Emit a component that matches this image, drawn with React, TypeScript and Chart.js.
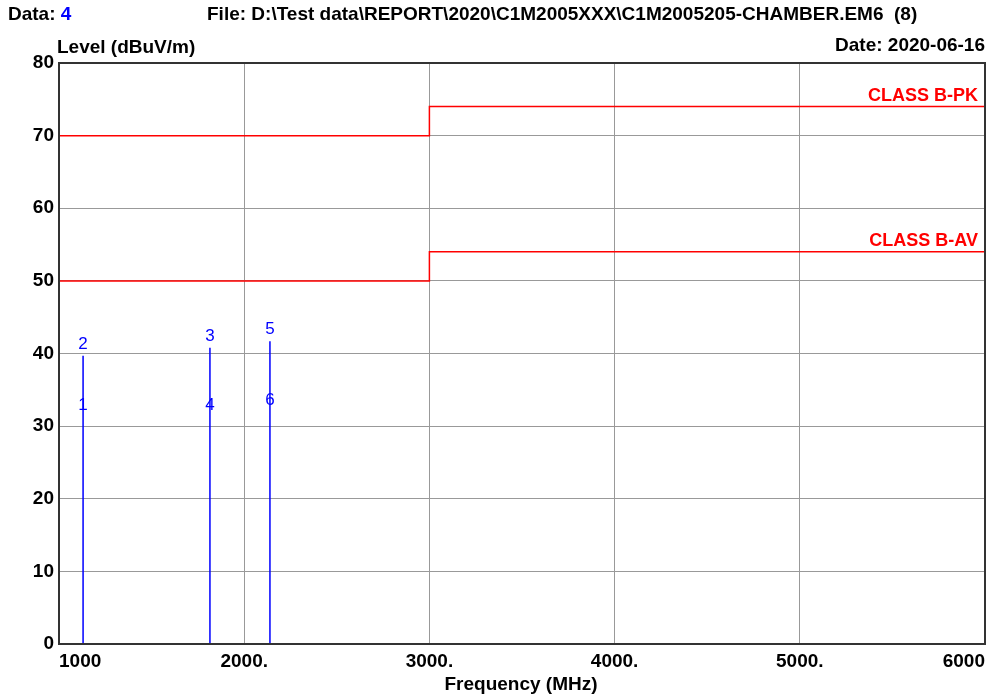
import React, { useEffect, useRef } from 'react';
import { Chart, registerables } from 'chart.js';

Chart.register(...registerables);

// ---- data ----
const markerFreqs = [1130, 1815, 2139];
const peakLevels = [39.7, 40.8, 41.7];
const avgLevels = [31.3, 31.3, 32.0];
const peakMarkerLabels = ['2', '3', '5'];
const avgMarkerLabels = ['1', '4', '6'];

const limitPkX = [1000, 3000, 3000, 6000];
const limitPkY = [70, 70, 74, 74];
const limitAvX = [1000, 3000, 3000, 6000];
const limitAvY = [50, 50, 54, 54];
const limitNames = ['CLASS B-PK', 'CLASS B-AV'];

const xTickValues = [1000, 2000, 3000, 4000, 5000, 6000];
const xTickLabels = ['1000', '2000.', '3000.', '4000.', '5000.', '6000'];
const yTickLabels = ['0', '10', '20', '30', '40', '50', '60', '70', '80'];

const headerData = 'Data: ';
const headerDataValue = '4';
const headerFile = 'File: D:\\Test data\\REPORT\\2020\\C1M2005XXX\\C1M2005205-CHAMBER.EM6  (8)';
const yTitle = 'Level (dBuV/m)';
const dateText = 'Date: 2020-06-16';
const xTitle = 'Frequency (MHz)';

const FONT = '"Liberation Sans", Arial, sans-serif';

const textPlugin = {
  id: 'emcTexts',
  afterDraw(chart: any) {
    const { ctx, chartArea, scales } = chart;
    const xs = scales.x;
    const ys = scales.y;
    ctx.save();
    // frame
    ctx.strokeStyle = '#333';
    ctx.lineWidth = 2;
    ctx.strokeRect(chartArea.left, chartArea.top, chartArea.right - chartArea.left, chartArea.bottom - chartArea.top);

    // marker numbers
    ctx.font = `17px ${FONT}`;
    ctx.fillStyle = '#0000ff';
    ctx.textAlign = 'center';
    ctx.textBaseline = 'alphabetic';
    markerFreqs.forEach((f, i) => {
      const px = xs.getPixelForValue(f);
      ctx.fillText(peakMarkerLabels[i], px, ys.getPixelForValue(peakLevels[i]) - 7);
      ctx.fillText(avgMarkerLabels[i], px, ys.getPixelForValue(avgLevels[i]) - 7);
    });

    // limit names
    ctx.font = `bold 18px ${FONT}`;
    ctx.fillStyle = '#ff0000';
    ctx.textAlign = 'right';
    ctx.fillText(limitNames[0], chartArea.right - 7, ys.getPixelForValue(limitPkY[limitPkY.length - 1]) - 6);
    ctx.fillText(limitNames[1], chartArea.right - 7, ys.getPixelForValue(limitAvY[limitAvY.length - 1]) - 6);

    // headers
    ctx.font = `bold 19px ${FONT}`;
    ctx.textBaseline = 'middle';
    ctx.textAlign = 'left';
    ctx.fillStyle = '#000';
    ctx.fillText(headerData, 8, 15);
    const w = ctx.measureText(headerData).width;
    ctx.fillStyle = '#0000ff';
    ctx.fillText(headerDataValue, 8 + w, 15);
    ctx.fillStyle = '#000';
    ctx.fillText(headerFile, 207, 15);
    ctx.fillText(yTitle, 57, 48);
    ctx.textAlign = 'right';
    ctx.fillText(dateText, chartArea.right, 46);
    ctx.textAlign = 'center';
    ctx.fillText(xTitle, 521, 685);
    ctx.restore();
  },
};

function buildStems() {
  const pts: any[] = [];
  markerFreqs.forEach((f, i) => {
    pts.push({ x: f, y: 0 });
    pts.push({ x: f, y: peakLevels[i] });
    pts.push({ x: f, y: null });
  });
  return pts;
}

export default function App() {
  const ref = useRef<HTMLCanvasElement>(null);
  useEffect(() => {
    if (!ref.current) return;
    const chart = new Chart(ref.current, {
      type: 'line',
      data: {
        datasets: [
          {
            data: limitPkX.map((x, i) => ({ x, y: limitPkY[i] })),
            borderColor: '#ff0000',
            borderWidth: 1.5,
            pointRadius: 0,
          },
          {
            data: limitAvX.map((x, i) => ({ x, y: limitAvY[i] })),
            borderColor: '#ff0000',
            borderWidth: 1.5,
            pointRadius: 0,
          },
          {
            data: buildStems(),
            borderColor: '#0000ff',
            borderWidth: 1.5,
            pointRadius: 0,
            spanGaps: false,
          },
        ],
      },
      options: {
        animation: false,
        responsive: false,
        events: [],
        layout: { padding: { top: 63, right: 18, left: 0, bottom: 0 } },
        plugins: { legend: { display: false }, tooltip: { enabled: false }, title: { display: false } },
        scales: {
          x: {
            type: 'linear',
            min: 1000,
            max: 6000,
            afterFit: (axis: any) => { axis.height = 53; },
            afterBuildTicks: (axis: any) => { axis.ticks = xTickValues.map((v) => ({ value: v })); },
            grid: { color: '#999999', lineWidth: 1, drawTicks: false },
            border: { display: false },
            ticks: {
              align: 'inner',
              padding: 6,
              maxRotation: 0,
              autoSkip: false,
              color: '#000',
              font: { family: FONT, size: 19, weight: 'bold' },
              callback: (v: any) => {
                const idx = xTickValues.indexOf(Number(v));
                return idx >= 0 ? xTickLabels[idx] : '';
              },
            },
          },
          y: {
            type: 'linear',
            min: 0,
            max: 80,
            afterFit: (axis: any) => { axis.width = 59; },
            grid: { color: '#999999', lineWidth: 1, drawTicks: false },
            border: { display: false },
            ticks: {
              stepSize: 10,
              padding: 5,
              autoSkip: false,
              color: '#000',
              font: { family: FONT, size: 19, weight: 'bold' },
              callback: (v: any) => {
                const idx = Math.round(Number(v) / 10);
                return yTickLabels[idx] ?? '';
              },
            },
          },
        },
      },
      plugins: [textPlugin],
    } as any);
    return () => chart.destroy();
  }, []);
  return (
    <div style={{ position: 'fixed', left: 0, top: 0, width: 1003, height: 697, background: '#fff' }}>
      <canvas ref={ref} width={1003} height={697} style={{ width: 1003, height: 697 }} />
    </div>
  );
}
